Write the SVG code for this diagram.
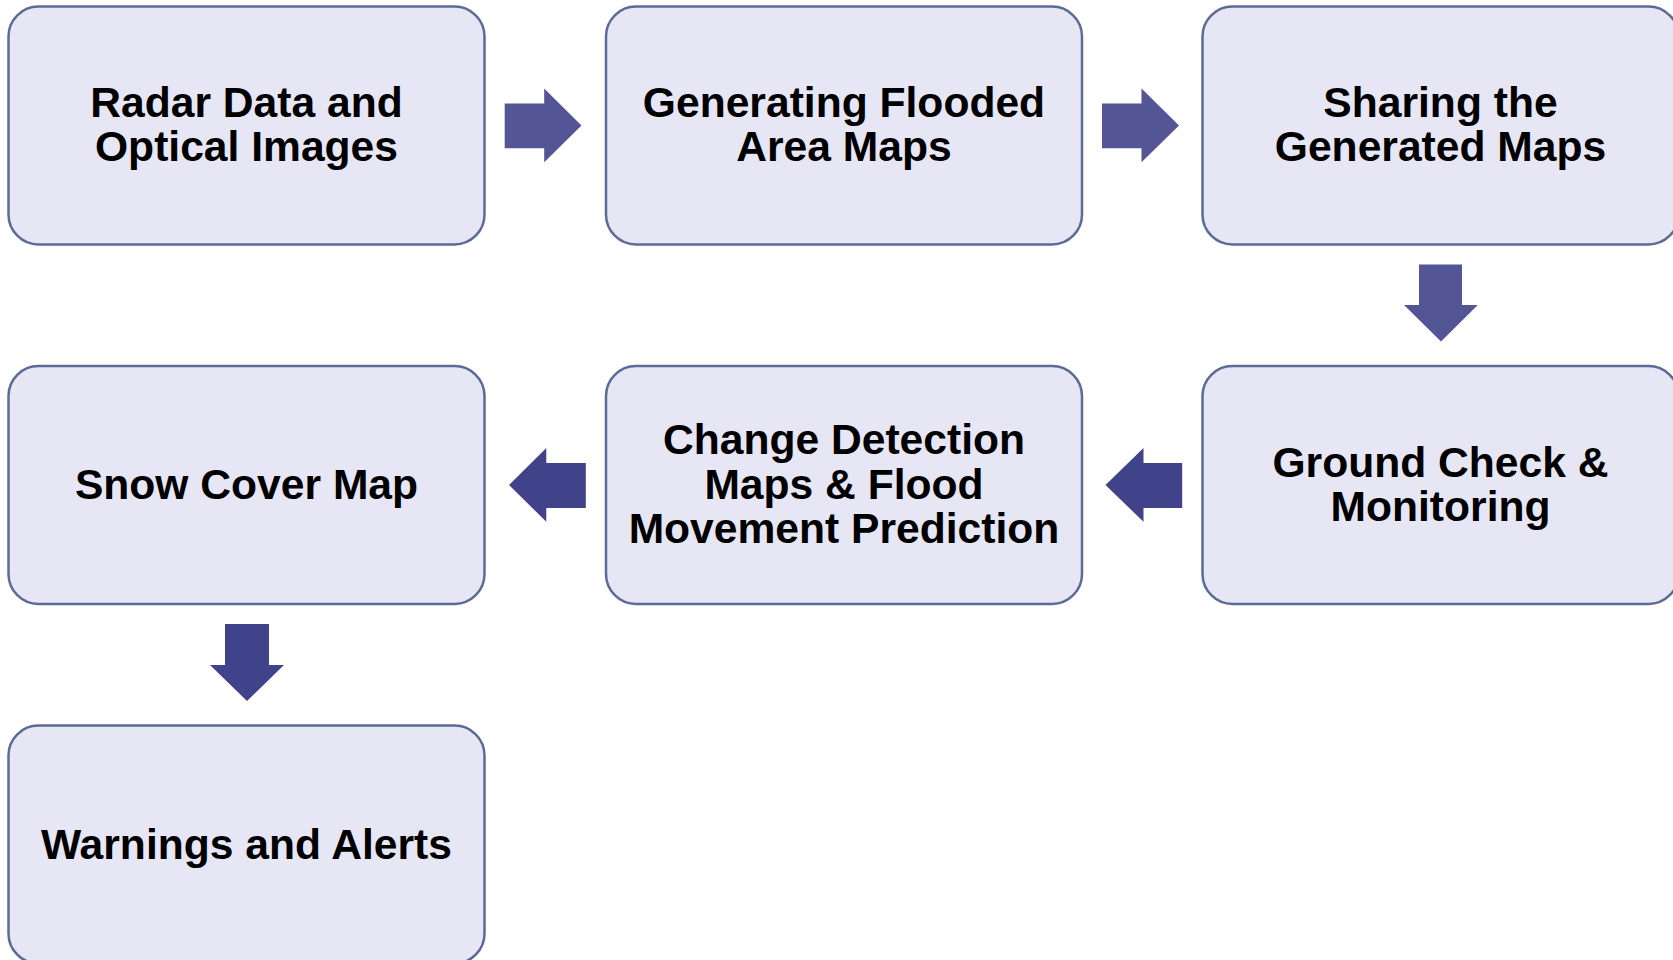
<svg xmlns="http://www.w3.org/2000/svg" width="1673" height="960" viewBox="0 0 1673 960">
<style>
.box{fill:#E6E6F4;stroke:#5A6C96;stroke-width:2.5}
.t{font-family:"Liberation Sans",Arial,sans-serif;font-weight:bold;font-size:42.6px;fill:#000;text-anchor:middle}
.a1{fill:#535594}
.a2{fill:#40438A}
</style>
<rect width="1673" height="960" fill="#fff"/>
<g id="connectors">
<polygon class="a1" points="504.7,103.5 544.2,103.5 544.2,88.6 581.5,125.4 544.2,162.2 544.2,148.3 504.7,148.3"/>
<polygon class="a1" points="1102,103.5 1141.5,103.5 1141.5,88.6 1179,125.4 1141.5,162.2 1141.5,148.3 1102,148.3"/>
<polygon class="a1" points="1419,264.6 1462,264.6 1462,305 1477.8,305 1441,341.4 1404,305 1419,305"/>
<polygon class="a2" points="1182.2,463 1143.5,463 1143.5,448 1105.5,485 1143.5,521.8 1143.5,508 1182.2,508"/>
<polygon class="a2" points="585.8,463 546.3,463 546.3,448 509,485 546.3,521.8 546.3,508 585.8,508"/>
<polygon class="a2" points="225,624 269,624 269,665 284,665 247,701 210,665 225,665"/>
</g>
<g id="n1"><rect class="box" x="8.5" y="6.5" width="476" height="238" rx="30"/><text class="t" x="246.5" y="116.5">Radar Data and</text><text class="t" x="246.5" y="161">Optical Images</text></g>
<g id="n2"><rect class="box" x="606" y="6.5" width="476" height="238" rx="30"/><text class="t" x="844" y="116.5">Generating Flooded</text><text class="t" x="844" y="161">Area Maps</text></g>
<g id="n3"><rect class="box" x="1202.5" y="6.5" width="476" height="238" rx="30"/><text class="t" x="1440.5" y="116.5">Sharing the</text><text class="t" x="1440.5" y="161">Generated Maps</text></g>
<g id="n4"><rect class="box" x="1202.5" y="366" width="476" height="238" rx="30"/><text class="t" x="1440.5" y="476.5">Ground Check &amp;</text><text class="t" x="1440.5" y="520.5">Monitoring</text></g>
<g id="n5"><rect class="box" x="606" y="366" width="476" height="238" rx="30"/><text class="t" x="844" y="454">Change Detection</text><text class="t" x="844" y="498.5">Maps &amp; Flood</text><text class="t" x="844" y="543">Movement Prediction</text></g>
<g id="n6"><rect class="box" x="8.5" y="366" width="476" height="238" rx="30"/><text class="t" x="246.5" y="498.5">Snow Cover Map</text></g>
<g id="n7"><rect class="box" x="8.5" y="725.5" width="476" height="238" rx="30"/><text class="t" x="246.5" y="858.5">Warnings and Alerts</text></g>
</svg>
